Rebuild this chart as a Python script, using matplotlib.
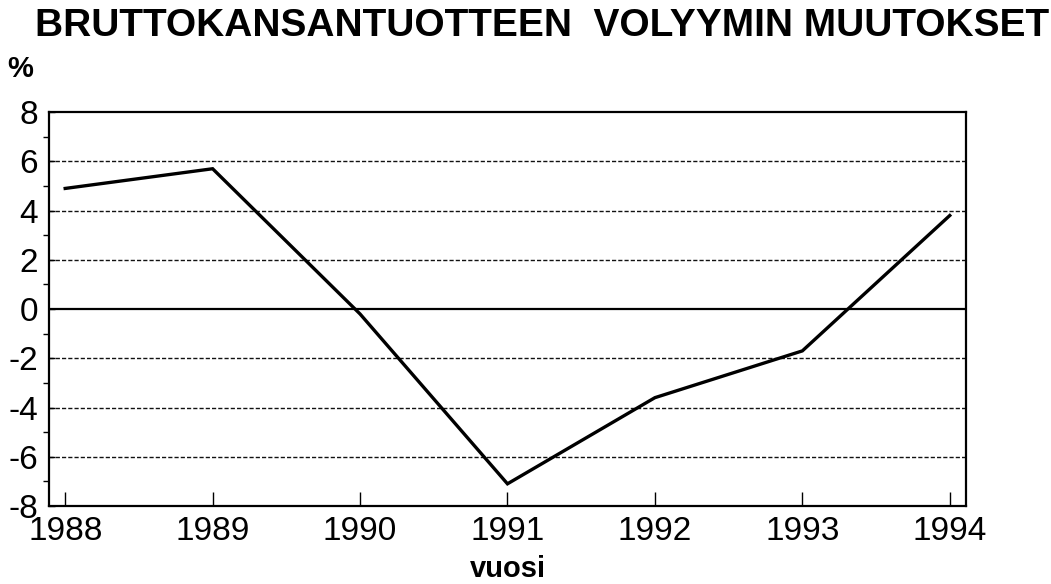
import matplotlib
matplotlib.use("Agg")
import matplotlib.pyplot as plt
from matplotlib.ticker import MultipleLocator

years = [1988, 1989, 1990, 1991, 1992, 1993, 1994]
growth = [4.9, 5.7, -0.2, -7.1, -3.6, -1.7, 3.8]
yticks = [-8, -6, -4, -2, 0, 2, 4, 6, 8]

plt.rcParams['font.family'] = ['Liberation Sans', 'DejaVu Sans']
plt.rcParams['axes.unicode_minus'] = False

fig = plt.figure(figsize=(10.51, 5.84), dpi=100)
ax = fig.add_axes([0.0466, 0.1336, 0.8725, 0.6744])

for y in yticks:
    if y == 0:
        ax.axhline(y, color='black', lw=1.6, zorder=1)
    elif abs(y) < 8:
        ax.axhline(y, color='#111111', lw=1.0, ls=(0, (3, 1.5)), zorder=1)

ax.plot(years, growth, color='black', lw=2.4, zorder=3, solid_joinstyle='miter')

ax.set_xlim(1987.89, 1994.11)
ax.set_ylim(-8, 8)
ax.set_xticks(years)
ax.set_yticks(yticks)
ax.yaxis.set_minor_locator(MultipleLocator(1))
ax.tick_params(axis='both', direction='in', labelsize=24, colors='black')
ax.tick_params(axis='x', length=10, width=1, pad=7)
ax.tick_params(axis='y', length=4, width=1, pad=8)
ax.tick_params(axis='y', which='minor', length=4, width=1)
for s in ax.spines.values():
    s.set_linewidth(1.6)

ax.set_xlabel('vuosi', fontsize=21, fontweight='bold', labelpad=6)

fig.text(0.516, 0.955, 'BRUTTOKANSANTUOTTEEN  VOLYYMIN MUUTOKSET',
         ha='center', va='center', fontsize=28, fontweight='bold')
fig.text(0.007, 0.882, '%', ha='left', va='center', fontsize=21, fontweight='bold')

fig.savefig('out.png', dpi=100)
